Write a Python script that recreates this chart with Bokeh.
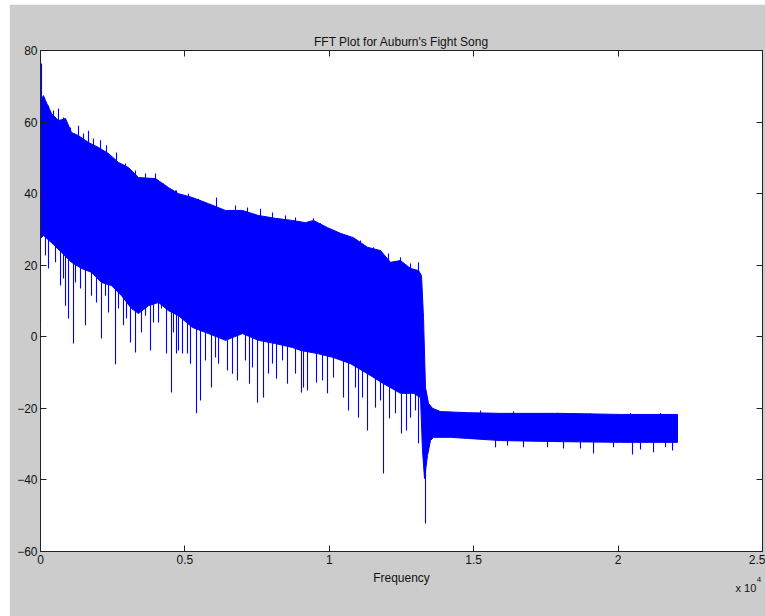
import numpy as np
from bokeh.plotting import figure
from bokeh.models import Range1d, FixedTicker, LinearAxis, Label
from bokeh.embed import file_html
from bokeh.resources import INLINE

# ---- data (frequency in Hz, magnitude in dB) ----
upper_freq = [0, 104, 173, 381, 623, 866, 1073, 1316, 1662, 2008, 2355, 2701, 3047, 3393,
              3982, 4432, 4778, 5263, 5817, 6406, 6994, 7548, 8137, 8726, 9176, 9453, 9938,
              10388, 10838, 11323, 11773, 12119, 12465, 12812, 13089, 13193, 13262, 13331,
              13435, 13574, 13850, 14785, 15928, 18006, 20083, 22057]
upper_db = [66.0, 67.4, 66.0, 62.4, 60.4, 61.0, 57.1, 56.2, 54.3, 52.9, 51.2, 48.7, 47.3, 44.5,
            44.2, 41.7, 40.0, 38.9, 37.2, 35.3, 35.3, 33.9, 33.1, 32.5, 31.9, 32.5, 30.5,
            28.9, 27.7, 25.0, 24.1, 20.8, 21.3, 19.1, 18.5, 17.1, 5.4, -14.2,
            -18.6, -20.0, -20.9, -21.2, -21.4, -21.4, -21.7, -21.7]

lower_freq = [0, 104, 381, 727, 1073, 1420, 1766, 2112, 2458, 2805, 3151, 3393, 3740, 4086,
              4432, 4778, 5263, 5817, 6406, 6994, 7548, 8137, 8726, 9003, 9592, 10146, 10734,
              11323, 11877, 12465, 12915, 13158, 13227, 13297, 13400, 13504, 13608, 14197,
              14785, 15928, 18006, 20083, 22057]
lower_db = [27.5, 28.3, 26.3, 23.6, 20.8, 19.1, 18.0, 15.2, 14.3, 11.5, 7.9, 6.5, 8.7, 9.6,
            7.3, 5.9, 2.6, 0.9, -1.0, 0.9, -1.0, -1.9, -3.0, -3.8, -4.7, -5.8, -7.5,
            -10.3, -13.1, -15.8, -15.8, -17.0, -31.8, -39.6, -33.2, -29.0, -28.1, -28.1,
            -28.4, -29.0, -29.3, -29.5, -29.5]

# downward spikes below the dense band
spike_down_freq = [0, 173, 277, 520, 693, 796, 866, 970, 1143, 1212, 1385, 1558, 1766, 1939,
                   2112, 2251, 2355, 2597, 2701, 2874, 2978, 3116, 3290, 3497, 3636, 3809,
                   3913, 4086, 4190, 4363, 4536, 4605, 4709, 4778, 4917, 5090, 5194, 5402,
                   5540, 5713, 5921, 6060, 6164, 6475, 6648, 6821, 7098, 7237, 7341, 7514,
                   7722, 7895, 8033, 8172, 8380, 8553, 8830, 9037, 9107, 9245, 9557, 9765,
                   9938, 10146, 10492, 10665, 10907, 11011, 11150, 11323, 11600, 11773,
                   11877, 12085, 12292, 12500, 12673, 12812, 12985, 13089, 13331,
                   15756, 16171, 16725, 17556, 18110, 18698, 19149, 19841, 20499, 20776,
                   21227, 21642, 21885]
spike_down_db = [4.0, 22.7, 19.1, 20.8, 14.3, 16.3, 8.7, 5.1, -1.9, 15.2, 13.5, 3.2, 11.5, 9.6,
                 -0.5, 11.5, 6.8, -7.7, 7.9, 3.2, 5.1, -1.6, -4.4, 1.2, 5.9, -3.8,
                 4.0, 4.0, 7.9, -4.7, -15.6, 1.2, -4.7, -3.8, -4.7, -4.7, -7.5, -21.4,
                 -17.8, -6.6, -14.2, -5.8, -7.5, -9.4, -10.3, -12.2, -6.6, -13.1, -8.6, -18.4,
                 -17.0, -10.3, -7.5, -11.7, -6.6, -13.1, -10.3, -15.6, -14.2, -15.0, -12.8, -12.2,
                 -15.8, -11.4, -17.0, -20.6, -14.2, -22.6, -17.0, -26.2, -19.8, -17.8,
                 -38.2, -22.8, -21.4, -27.0, -26.2, -22.6, -20.6, -29.8, -52.2,
                 -30.9, -30.4, -30.9, -30.9, -31.2, -31.2, -32.6, -30.9, -32.9, -31.5,
                 -32.3, -30.9, -31.8]

# upward spikes above the dense band
spike_up_freq = [35, 277, 450, 623, 796, 1039, 1316, 1489, 1662, 1835, 2078, 2285, 2632, 2943,
                 3290, 3636, 3982, 4259, 4675, 4709, 5125, 5471, 6094, 6752, 7168, 7618,
                 8033, 8484, 8830, 9245, 9453, 9696, 10111, 10319, 10630, 11081, 11531,
                 12050, 12465, 12812, 13089, 15236, 16379, 17902, 19044, 20430, 21469]
spike_up_db = [76.4, 64.6, 63.2, 63.8, 61.3, 58.5, 59.0, 56.8, 57.6, 55.4, 54.9, 53.5, 51.5, 48.4,
               46.5, 45.6, 45.6, 42.8, 40.9, 40.9, 40.0, 38.6, 38.9, 36.7, 36.1, 35.8,
               34.7, 33.9, 33.3, 31.9, 33.1, 31.7, 29.7, 29.1, 27.7, 26.9, 25.0,
               23.3, 22.2, 20.5, 20.8, -20.6, -20.9, -21.2, -21.4, -21.2, -21.4]

x_ticks = [0, 5000, 10000, 15000, 20000, 25000]
x_tick_labels = ["0", "0.5", "1", "1.5", "2", "2.5"]
y_ticks = [-60, -40, -20, 0, 20, 40, 60, 80]

FONT = "Liberation Sans"
BLUE = "#0000FF"
GRAY = "#CCCCCC"
INK = "#111111"

p = figure(width=756, height=612, x_range=Range1d(0, 25000), y_range=Range1d(-60, 80),
           output_backend="svg", toolbar_location=None,
           min_border_left=31, min_border_right=3, min_border_top=46, min_border_bottom=65,
           background_fill_color="white", border_fill_color=GRAY,
           outline_line_color="#222222")
p.margin = (4, 0, 0, 9)
p.grid.visible = False

p.title.text = "FFT Plot for Auburn's Fight Song"
p.title.align = "center"
p.title.text_font = FONT
p.title.text_font_size = "12px"
p.title.text_font_style = "normal"
p.title.text_color = INK
p.title.standoff = 4

def style_axis(ax, labels=True):
    ax.major_tick_in = 6
    ax.major_tick_out = 0
    ax.minor_tick_in = 0
    ax.minor_tick_out = 0
    ax.axis_line_color = "#222222"
    ax.major_tick_line_color = "#222222"
    ax.major_label_text_font = FONT
    ax.major_label_text_font_size = "12px" if labels else "0px"
    ax.major_label_text_color = INK
    ax.major_label_standoff = 3 if labels else 0

p.xaxis.ticker = FixedTicker(ticks=x_ticks)
p.xaxis.major_label_overrides = dict(zip(x_ticks, x_tick_labels))
p.yaxis.ticker = FixedTicker(ticks=y_ticks)
style_axis(p.xaxis[0])
style_axis(p.yaxis[0])
p.xaxis.axis_label = "Frequency"
p.xaxis.axis_label_text_font = FONT
p.xaxis.axis_label_text_font_size = "12px"
p.xaxis.axis_label_text_font_style = "normal"
p.xaxis.axis_label_text_color = INK
p.xaxis.axis_label_standoff = 4

top_axis = LinearAxis(ticker=FixedTicker(ticks=x_ticks))
style_axis(top_axis, labels=False)
p.add_layout(top_axis, "above")
right_axis = LinearAxis(ticker=FixedTicker(ticks=y_ticks))
style_axis(right_axis, labels=False)
p.add_layout(right_axis, "right")

# x 10^4 multiplier under the right end of the x axis (side panel, so it is not clipped)
p.add_layout(Label(x=24065, y=-70.3, text="x 10", text_align="left",
                   text_baseline="alphabetic", text_font=FONT, text_font_size="11px",
                   text_color=INK), "below")
p.add_layout(Label(x=24800, y=-67.9, text="4", text_align="left",
                   text_baseline="alphabetic", text_font=FONT, text_font_size="8px",
                   text_color=INK), "below")

# dense spectrum band
band_x = upper_freq + lower_freq[::-1]
band_y = upper_db + lower_db[::-1]
p.patch(band_x, band_y, fill_color=BLUE, line_color=BLUE, line_width=1)

# spikes attached to the band
down_anchor = np.interp(spike_down_freq, lower_freq, lower_db) + 3
p.segment(x0=spike_down_freq, y0=spike_down_db, x1=spike_down_freq, y1=down_anchor,
          line_color=BLUE, line_width=1.1)
up_anchor = np.interp(spike_up_freq, upper_freq, upper_db) - 3
p.segment(x0=spike_up_freq, y0=spike_up_db, x1=spike_up_freq, y1=up_anchor,
          line_color=BLUE, line_width=1.1)

# y label (mostly cut off at the left edge, as in the original)
p.add_layout(Label(x=-27, y=250, x_units="screen", y_units="screen", text="Magnitude in dB",
                   angle=np.pi / 2, text_align="center", text_baseline="bottom",
                   text_font=FONT, text_font_size="12px", text_color=INK))

open("out.html", "w").write(file_html(p, INLINE))
